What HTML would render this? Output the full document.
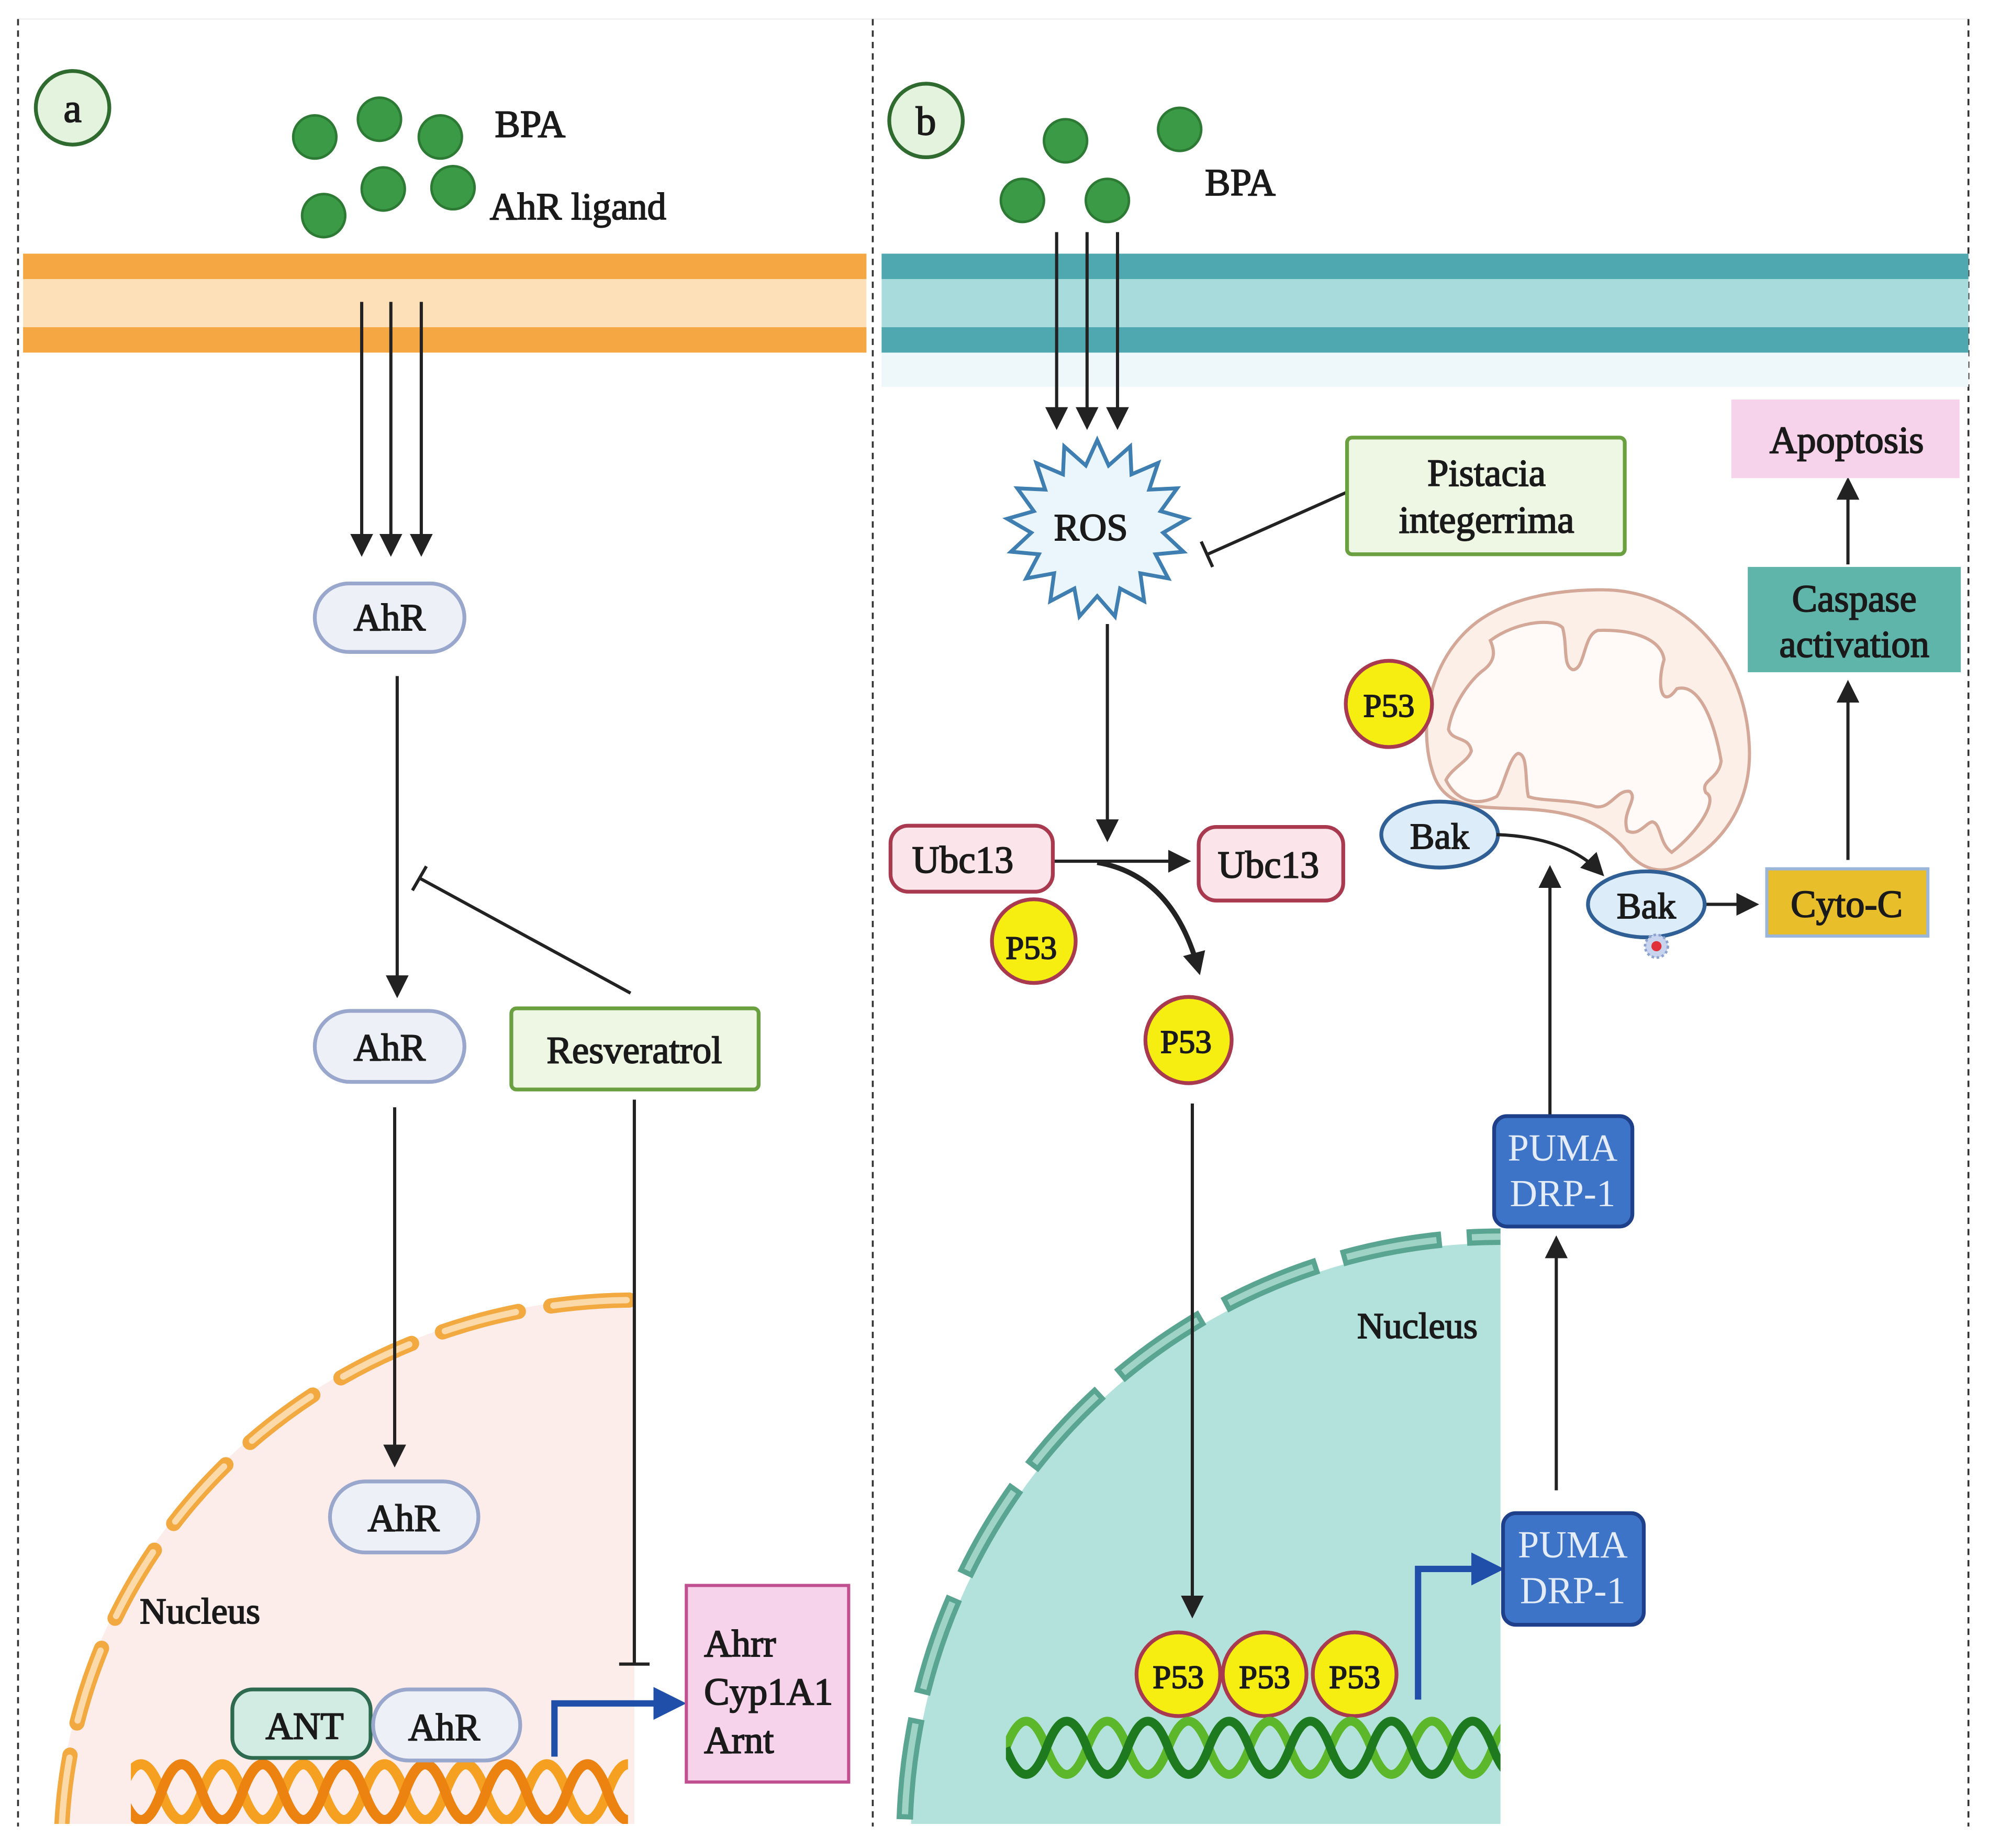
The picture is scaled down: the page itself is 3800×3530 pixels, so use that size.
<!DOCTYPE html>
<html><head><meta charset="utf-8"><style>html,body{margin:0;padding:0;background:#fff;width:3800px;height:3530px;overflow:hidden}svg{display:block}
text{font-family:"Liberation Serif",serif;fill:#1a1a1a;stroke:#1a1a1a;stroke-width:0.8}</style></head>
<body>
<svg width="3800" height="3530" viewBox="0 0 1568 1457" xmlns="http://www.w3.org/2000/svg">
<defs>
<marker id="ah2" markerWidth="18" markerHeight="18" refX="14" refY="9" orient="auto" markerUnits="userSpaceOnUse" viewBox="0 0 18 18"><path d="M0,0 L18,9 L0,18 z" fill="#222"/></marker>
<marker id="bh" markerWidth="26" markerHeight="26" refX="20" refY="13" orient="auto" markerUnits="userSpaceOnUse" viewBox="0 0 26 26"><path d="M0,0 L26,13 L0,26 z" fill="#1f4fa8"/></marker>
<clipPath id="ca"><rect x="18" y="900" width="482" height="538"/></clipPath>
<clipPath id="cb"><rect x="695" y="900" width="488" height="538"/></clipPath>
<clipPath id="da"><rect x="103" y="1370" width="392" height="68"/></clipPath>
<clipPath id="db"><rect x="793" y="1340" width="390" height="70"/></clipPath>
</defs>
<rect width="1568" height="1457" fill="#fff"/>
<line x1="14" y1="15" x2="1552" y2="15" stroke="#eee" stroke-width="1"/>
<g stroke="#333" stroke-width="1.5" stroke-dasharray="5,4">
<line x1="14" y1="15" x2="14" y2="1440"/><line x1="688" y1="15" x2="688" y2="1440"/><line x1="1552" y1="15" x2="1552" y2="1440"/></g>

<rect x="18" y="200" width="665" height="78" fill="#fde0b8"/>
<rect x="18" y="200" width="665" height="20" fill="#f4a742"/>
<rect x="18" y="258" width="665" height="20" fill="#f4a742"/>
<rect x="695" y="278" width="857" height="27" fill="#eef8fb"/>
<rect x="695" y="200" width="857" height="78" fill="#a8dcdc"/>
<rect x="695" y="200" width="857" height="20" fill="#4fa8b0"/>
<rect x="695" y="258" width="857" height="20" fill="#4fa8b0"/>

<circle cx="57" cy="85" r="29" fill="#e3f3dd" stroke="#2f6b2f" stroke-width="3"/>
<text x="57" y="96" font-size="32" text-anchor="middle">a</text>
<circle cx="730" cy="95" r="29" fill="#e3f3dd" stroke="#2f6b2f" stroke-width="3"/>
<text x="730" y="106" font-size="32" text-anchor="middle">b</text>

<g fill="#3a9a45" stroke="#2d7a35" stroke-width="2">
<circle cx="248" cy="108" r="17"/><circle cx="299" cy="94" r="17"/><circle cx="347" cy="108" r="17"/>
<circle cx="255" cy="170" r="17"/><circle cx="302" cy="149" r="17"/><circle cx="357" cy="148" r="17"/>
<circle cx="840" cy="111" r="17"/><circle cx="930" cy="102" r="17"/><circle cx="806" cy="158" r="17"/><circle cx="873" cy="158" r="17"/>
</g>
<text x="390" y="108" font-size="30">BPA</text>
<text x="386" y="173" font-size="30">AhR ligand</text>
<text x="950" y="154" font-size="30">BPA</text>

<g clip-path="url(#ca)">
<ellipse cx="500" cy="1460" rx="455" ry="437" fill="#fcecea"/>
<ellipse cx="500" cy="1460" rx="452" ry="435" fill="none" stroke="#f2a940" stroke-width="12" stroke-dasharray="62,26" stroke-linecap="round"/>
<ellipse cx="500" cy="1460" rx="452" ry="435" fill="none" stroke="#fcd9a8" stroke-width="5" stroke-dasharray="58,30" stroke-dashoffset="-2" stroke-linecap="round"/>
</g>
<g clip-path="url(#cb)">
<ellipse cx="1183" cy="1450" rx="465" ry="470" fill="#b3e2dc"/>
<ellipse cx="1183" cy="1450" rx="470" ry="475" fill="none" stroke="#5aa592" stroke-width="13" stroke-dasharray="80,20"/>
<ellipse cx="1183" cy="1450" rx="470" ry="475" fill="none" stroke="#9fd3c6" stroke-width="5" stroke-dasharray="72,28" stroke-dashoffset="-4"/>
</g>

<g stroke="#222" stroke-width="2.5" fill="none">
<line x1="285" y1="238" x2="285" y2="435" marker-end="url(#ah2)"/>
<line x1="308" y1="238" x2="308" y2="435" marker-end="url(#ah2)"/>
<line x1="332" y1="238" x2="332" y2="435" marker-end="url(#ah2)"/>
<line x1="313" y1="533" x2="313" y2="783" marker-end="url(#ah2)"/>
<line x1="497" y1="783" x2="330" y2="692"/>
<line x1="325" y1="702" x2="336" y2="683"/>
<line x1="311" y1="873" x2="311" y2="1153" marker-end="url(#ah2)"/>
<line x1="500" y1="867" x2="500" y2="1312"/>
<line x1="488" y1="1312" x2="512" y2="1312"/>
</g>
<rect x="248" y="460" width="118" height="54" rx="27" fill="#eef0f8" stroke="#9aa7cc" stroke-width="3"/>
<text x="307" y="497" font-size="30" text-anchor="middle">AhR</text>
<rect x="248" y="797" width="118" height="56" rx="28" fill="#eef0f8" stroke="#9aa7cc" stroke-width="3"/>
<text x="307" y="836" font-size="30" text-anchor="middle">AhR</text>
<rect x="403" y="795" width="195" height="64" rx="4" fill="#eef6e4" stroke="#6aa040" stroke-width="3"/>
<text x="500" y="838" font-size="30" text-anchor="middle">Resveratrol</text>
<rect x="260" y="1168" width="117" height="56" rx="28" fill="#eef0f8" stroke="#9aa7cc" stroke-width="3"/>
<text x="318" y="1207" font-size="30" text-anchor="middle">AhR</text>
<text x="110" y="1280" font-size="29">Nucleus</text>

<g fill="none" stroke-width="8" clip-path="url(#da)">
<path d="M95,1413 q16,-44 32,0 t32,0 t32,0 t32,0 t32,0 t32,0 t32,0 t32,0 t32,0 t32,0 t32,0 t32,0 t32,0" stroke="#f5a020"/>
<path d="M95,1413 q16,44 32,0 t32,0 t32,0 t32,0 t32,0 t32,0 t32,0 t32,0 t32,0 t32,0 t32,0 t32,0 t32,0" stroke="#ec8210"/>
</g>
<rect x="183" y="1332" width="109" height="54" rx="16" fill="#d2ece4" stroke="#2d6a50" stroke-width="3"/>
<text x="240" y="1371" font-size="30" text-anchor="middle">ANT</text>
<rect x="294" y="1332" width="116" height="56" rx="28" fill="#eef0f8" stroke="#9aa7cc" stroke-width="3"/>
<text x="350" y="1372" font-size="30" text-anchor="middle">AhR</text>
<path d="M437,1385 V1343 H535" fill="none" stroke="#1f4fa8" stroke-width="5" marker-end="url(#bh)"/>
<rect x="541" y="1250" width="128" height="155" fill="#f6d3ea" stroke="#c0508f" stroke-width="2.5"/>
<text x="555" y="1306" font-size="30">Ahrr</text>
<text x="555" y="1344" font-size="30">Cyp1A1</text>
<text x="555" y="1382" font-size="30">Arnt</text>

<g stroke="#222" stroke-width="2.5" fill="none">
<line x1="833" y1="183" x2="833" y2="335" marker-end="url(#ah2)"/>
<line x1="857" y1="183" x2="857" y2="335" marker-end="url(#ah2)"/>
<line x1="881" y1="183" x2="881" y2="335" marker-end="url(#ah2)"/>
<line x1="1062" y1="388" x2="952" y2="437"/>
<line x1="947" y1="427" x2="956" y2="447"/>
<line x1="873" y1="492" x2="873" y2="660" marker-end="url(#ah2)"/>
<line x1="830" y1="679" x2="935" y2="679" marker-end="url(#ah2)"/>
<path d="M865,680 Q925,690 945,765" stroke-width="4" marker-end="url(#ah2)"/>
<line x1="940" y1="870" x2="940" y2="1272" marker-end="url(#ah2)"/>
<line x1="1227" y1="1175" x2="1227" y2="978" marker-end="url(#ah2)"/>
<line x1="1222" y1="880" x2="1222" y2="686" marker-end="url(#ah2)"/>
<line x1="1345" y1="713" x2="1383" y2="713" marker-end="url(#ah2)"/>
<line x1="1457" y1="678" x2="1457" y2="540" marker-end="url(#ah2)"/>
<line x1="1457" y1="445" x2="1457" y2="380" marker-end="url(#ah2)"/>
</g>
<polygon fill="#eaf6fb" stroke="#3f7eb0" stroke-width="3" points="
865,347 874,367 891,352 892,374 913,365 906,386 928,385 915,403 936,409 917,420 933,435 911,437 921,456 899,452 902,474 883,464 879,486 865,470 851,486 847,464 828,474 831,452 809,456 819,437 797,435 813,420 794,409 815,403 802,385 824,386 817,365 838,374 839,352 856,367"/>
<text x="860" y="426" font-size="30" text-anchor="middle">ROS</text>
<rect x="1062" y="345" width="219" height="92" rx="4" fill="#eef6e4" stroke="#6aa040" stroke-width="3"/>
<text x="1172" y="383" font-size="30" text-anchor="middle">Pistacia</text>
<text x="1172" y="420" font-size="30" text-anchor="middle">integerrima</text>

<rect x="702" y="651" width="128" height="52" rx="14" fill="#fbe5ea" stroke="#a8394f" stroke-width="3"/>
<text x="759" y="688" font-size="30" text-anchor="middle">Ubc13</text>
<rect x="945" y="652" width="114" height="58" rx="14" fill="#fbe5ea" stroke="#a8394f" stroke-width="3"/>
<text x="1000" y="692" font-size="30" text-anchor="middle">Ubc13</text>

<!-- mitochondrion -->
<path d="M1263,465 C1330,465 1375,520 1379,585 C1382,625 1365,660 1330,680 C1312,690 1295,688 1280,668 C1262,648 1240,640 1205,638 C1170,636 1140,640 1130,610 C1118,575 1125,520 1165,490 C1190,472 1225,465 1263,465 z" fill="#fcefe8" stroke="#d4a898" stroke-width="2.5"/>
<path d="M1175,505 C1195,490 1225,487 1232,495 C1236,510 1232,525 1240,528 C1250,528 1248,500 1260,497 C1290,496 1310,505 1312,520 C1306,540 1310,560 1322,543 C1340,538 1352,570 1357,600 C1355,615 1340,615 1345,625 C1355,630 1340,655 1318,672 C1308,665 1310,650 1303,648 C1298,648 1292,660 1283,655 C1278,640 1292,630 1285,624 C1275,622 1270,638 1258,636 C1240,630 1215,632 1205,628 C1202,615 1205,595 1197,594 C1190,596 1185,622 1180,628 C1165,636 1148,632 1140,615 C1145,605 1158,600 1160,592 C1158,580 1145,585 1142,575 C1145,555 1160,535 1170,528 C1180,520 1178,512 1175,505 z" fill="#fffaf8" stroke="#d4a898" stroke-width="2.5"/>

<g fill="#f6ee10" stroke="#a8394f" stroke-width="3">
<circle cx="815" cy="742" r="33"/><circle cx="937" cy="820" r="34"/><circle cx="1095" cy="555" r="34"/>
<circle cx="929" cy="1320" r="33"/><circle cx="997" cy="1320" r="33"/><circle cx="1068" cy="1320" r="33"/>
</g>
<g font-size="26">
<text x="813" y="756" text-anchor="middle">P53</text><text x="935" y="830" text-anchor="middle">P53</text>
<text x="1095" y="565" text-anchor="middle">P53</text><text x="929" y="1331" text-anchor="middle">P53</text>
<text x="997" y="1331" text-anchor="middle">P53</text><text x="1068" y="1331" text-anchor="middle">P53</text>
</g>

<ellipse cx="1135" cy="658" rx="46" ry="26" fill="#dcecf8" stroke="#2f5f95" stroke-width="3"/>
<text x="1135" y="669" font-size="29" text-anchor="middle">Bak</text>
<path d="M1180,658 Q1235,660 1262,688" fill="none" stroke="#222" stroke-width="2.5" marker-end="url(#ah2)"/>
<ellipse cx="1298" cy="713" rx="46" ry="26" fill="#dcecf8" stroke="#2f5f95" stroke-width="3"/>
<text x="1298" y="724" font-size="29" text-anchor="middle">Bak</text>
<circle cx="1306" cy="746" r="9" fill="#c8d4ee" stroke="#8ea2d0" stroke-width="2" stroke-dasharray="2,2"/>
<circle cx="1306" cy="746" r="4" fill="#e0303a"/>
<rect x="1393" y="685" width="127" height="53" fill="#e8bf2a" stroke="#9bb6d8" stroke-width="2.5"/>
<text x="1456" y="723" font-size="30" text-anchor="middle">Cyto-C</text>
<rect x="1378" y="447" width="168" height="83" fill="#5fb5a9"/>
<text x="1462" y="482" font-size="30" text-anchor="middle">Caspase</text>
<text x="1462" y="518" font-size="30" text-anchor="middle">activation</text>
<rect x="1365" y="315" width="180" height="62" fill="#f6d3ea"/>
<text x="1456" y="357" font-size="30" text-anchor="middle">Apoptosis</text>

<text x="1070" y="1055" font-size="29">Nucleus</text>
<g fill="none" stroke-width="7" clip-path="url(#db)">
<path d="M793,1378 q16,-42 32,0 t32,0 t32,0 t32,0 t32,0 t32,0 t32,0 t32,0 t32,0 t32,0 t32,0 t32,0 t32,0" stroke="#5cb82a"/>
<path d="M793,1378 q16,42 32,0 t32,0 t32,0 t32,0 t32,0 t32,0 t32,0 t32,0 t32,0 t32,0 t32,0 t32,0 t32,0" stroke="#1e7a1e"/>
</g>
<path d="M1118,1340 V1237 H1180" fill="none" stroke="#1f4fa8" stroke-width="5" marker-end="url(#bh)"/>
<g text-anchor="middle" font-size="30">
<rect x="1185" y="1193" width="111" height="88" rx="10" fill="#3d74c8" stroke="#1e3f8a" stroke-width="3"/>
<text x="1240" y="1228" style="fill:#e4ecfa;stroke:none">PUMA</text>
<text x="1240" y="1264" style="fill:#e4ecfa;stroke:none">DRP-1</text>
<rect x="1178" y="880" width="109" height="87" rx="10" fill="#3d74c8" stroke="#1e3f8a" stroke-width="3"/>
<text x="1232" y="915" style="fill:#e4ecfa;stroke:none">PUMA</text>
<text x="1232" y="951" style="fill:#e4ecfa;stroke:none">DRP-1</text>
</g>
</svg>
</body></html>
